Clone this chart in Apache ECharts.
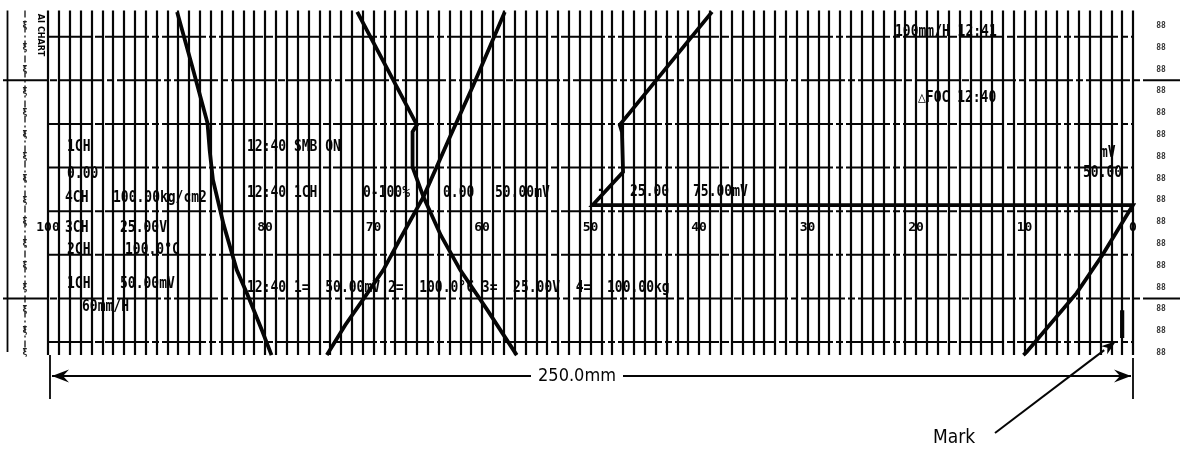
<!DOCTYPE html>
<html>
<head>
<meta charset="utf-8">
<script src="https://cdn.jsdelivr.net/npm/echarts@6/dist/echarts.min.js"></script>
<style>
  html, body { margin: 0; padding: 0; background: #fff; }
  #chart { width: 1182px; height: 449px; }
</style>
</head>
<body>
<div id="chart"></div>
<script>
// Recorder paper: 0–100 % full scale across (reversed), paper travel in minutes upward
// (60 mm/H, one major row = 10 mm = 10 min).

// Printed scale numbers (the printer skipped 90)
const scaleTicks = [100, 80, 70, 60, 50, 40, 30, 20, 10, 0];

// Major row lines, minutes; the two long rules run across the margins too
const rowLines = [0, 10, 20, 30, 40, 50, 60, 70];
const longRows = [10, 60];

// Pen traces as [scale %, minute]
const trace1 = [[88.1, 75.7], [86.7, 63.1], [85.3, 50.2], [85.1, 44.0], [84.8, 37.2],
                [83.8, 26.8], [82.6, 16.5], [81.6, 10.8], [80.3, 2.8], [79.4, -3.0]];
const trace2 = [[71.5, 75.7], [66.0, 49.8], [66.4, 48.2], [66.4, 40.1], [65.4, 33.3],
                [63.8, 24.5], [62.0, 16.5], [59.5, 7.3], [56.8, -3.0]];
const trace3 = [[74.3, -3.0], [72.6, 3.9], [71.0, 9.6], [69.1, 16.5], [67.6, 23.4],
                [65.4, 33.3], [63.0, 46.8], [60.8, 58.9], [57.9, 75.7]];
const trace4 = [[38.8, 75.7], [47.3, 49.8], [47.1, 48.2], [47.0, 39.0], [49.8, 31.4],
                [0.0, 31.4], [2.8, 20.0], [5.2, 11.2], [9.8, -2.3], [10.1, -3.0]];

// Event mark near the zero edge
const markBar = [[1, 7.3], [1, 0.9]];

// Chart-recorder printouts: [text, left px, centre px]
const printouts = [
  ['100mm/H 12:41', 895, 32],
  ['\u25B3FOC 12:40', 918, 98],
  ['1CH', 67, 147],
  ['12:40 SMB ON', 247, 147],
  ['mV', 1100, 153],
  ['0.00', 67, 174],
  ['50.00', 1083, 173],
  ['12:40 1CH', 247, 193],
  ['0-100%', 363, 193],
  ['0.00', 443, 193],
  ['50.00mV', 495, 193],
  ['-', 597, 190],
  ['25.00', 630, 192],
  ['75.00mV', 693, 192],
  ['4CH', 65, 198],
  ['100.00kg/cm2', 113, 198],
  ['3CH', 65, 228],
  ['25.00V', 120, 228],
  ['2CH', 67, 250],
  ['100.0\u00B0C', 125, 250],
  ['1CH', 67, 284],
  ['50.00mV', 120, 284],
  ['12:40 1=  50.00mV 2=  100.0\u00B0C 3=  25.00V  4=  100.00kg', 247, 288],
  ['60mm/H', 82, 307]
];

const chart = echarts.init(document.getElementById('chart'), null, { renderer: 'canvas' });
const INK = '#050505';
const MONO = "'DejaVu Sans Mono', 'Liberation Mono', monospace";
const SANS = "'DejaVu Sans Condensed', 'DejaVu Sans', sans-serif";

function traceSeries(data, width) {
  return {
    type: 'line', data: data, showSymbol: false, symbol: 'none', clip: true,
    lineStyle: { color: INK, width: width, cap: 'butt', join: 'miter' },
    z: 5, silent: true
  };
}

chart.setOption({
  animation: false,
  backgroundColor: '#ffffff',
  grid: { left: 48, right: 49, top: 10.6, bottom: 93.9 },
  xAxis: {
    type: 'value', min: 0, max: 100, interval: 1, inverse: true,
    position: 'bottom', offset: -142,
    axisLine: { show: false }, axisTick: { show: false },
    axisLabel: {
      formatter: v => (scaleTicks.includes(v) ? String(v) : ''),
      fontFamily: MONO, fontWeight: 'bold', fontSize: 13, color: INK,
      margin: 8, hideOverlap: false, showMinLabel: true, showMaxLabel: true
    },
    splitLine: { show: true, showMinLine: true, showMaxLine: true, lineStyle: { color: INK, width: 2.2 } }
  },
  yAxis: { type: 'value', min: -3, max: 76, show: false },
  series: [
    {
      type: 'custom', silent: true, z: 3,
      data: rowLines.map(m => [50, m, longRows.includes(m) ? 1 : 0]),
      encode: { x: 0, y: 1 },
      renderItem: function (params, api) {
        const p = api.coord([api.value(0), api.value(1)]);
        const cs = params.coordSys;
        const ext = api.value(2) === 1;
        return {
          type: 'line',
          shape: { x1: ext ? 3 : cs.x, y1: p[1], x2: ext ? 1180 : cs.x + cs.width, y2: p[1] },
          style: { stroke: INK, lineWidth: 2, lineDash: [44, 3, 7, 3] }
        };
      }
    },
    traceSeries(trace1, 3.8),
    traceSeries(trace2, 3.8),
    traceSeries(trace3, 3.8),
    traceSeries(trace4, 3.8),
    traceSeries(markBar, 4.2)
  ]
});

// Paper margins, printouts and the dimension / mark callouts
const px = v => chart.convertToPixel({ xAxisIndex: 0 }, v);
const py = m => chart.convertToPixel({ yAxisIndex: 0 }, m);
const xL = px(100), xR = px(0);
const yTop = py(76), yBot = py(-3);
const g = [];

// left paper edge and sprocket rule
g.push({ type: 'line', shape: { x1: 7.5, y1: yTop, x2: 7.5, y2: yBot - 3 }, style: { stroke: INK, lineWidth: 1.8 } });
g.push({ type: 'line', shape: { x1: 25, y1: yTop, x2: 25, y2: yBot - 3 }, style: { stroke: '#222', lineWidth: 1.4, lineDash: [7, 3, 2, 3] } });
g.push({
  type: 'text', x: 40, y: 35, rotation: -Math.PI / 2,
  style: { text: 'AI CHART', fontFamily: SANS, fontWeight: 'bold', fontSize: 9, fill: INK, align: 'center', verticalAlign: 'middle' }
});

// small margin printing every 5 min
for (let m = 72.5; m > -3; m -= 5) {
  const y = py(m);
  g.push({ type: 'text', x: 25, y: y, style: { text: 'ξ', fontFamily: SANS, fontWeight: 'bold', fontSize: 9, fill: '#222', align: 'center', verticalAlign: 'middle' } });
  g.push({ type: 'text', x: 1161, y: y, style: { text: '88', fontFamily: MONO, fontWeight: 'bold', fontSize: 8, fill: '#333', align: 'center', verticalAlign: 'middle' } });
}

printouts.forEach(([t, x, y]) => {
  g.push({
    type: 'text', x: x, y: y, z: 10, scaleY: 1.15,
    style: { text: t, fontFamily: MONO, fontWeight: 'bold', fontSize: 13, fill: INK, align: 'left', verticalAlign: 'middle' }
  });
});

// 250.0 mm dimension
const yDim = 376, textX = 577;
g.push({ type: 'line', shape: { x1: xL + 2, y1: yBot, x2: xL + 2, y2: 399 }, style: { stroke: INK, lineWidth: 1.8 } });
g.push({ type: 'line', shape: { x1: xR, y1: yBot + 3, x2: xR, y2: 399 }, style: { stroke: INK, lineWidth: 1.8 } });
g.push({ type: 'line', shape: { x1: xL + 4, y1: yDim, x2: textX - 46, y2: yDim }, style: { stroke: INK, lineWidth: 1.8 } });
g.push({ type: 'line', shape: { x1: textX + 46, y1: yDim, x2: xR - 2, y2: yDim }, style: { stroke: INK, lineWidth: 1.8 } });
g.push({ type: 'polygon', shape: { points: [[xL + 4, yDim], [xL + 21, yDim - 6.5], [xL + 15, yDim], [xL + 21, yDim + 6.5]] }, style: { fill: INK } });
g.push({ type: 'polygon', shape: { points: [[xR - 2, yDim], [xR - 19, yDim - 6.5], [xR - 13, yDim], [xR - 19, yDim + 6.5]] }, style: { fill: INK } });
g.push({ type: 'text', x: textX, y: yDim, style: { text: '250.0mm', fontFamily: SANS, fontSize: 18, fill: INK, align: 'center', verticalAlign: 'middle' } });

// "Mark" callout pointing at the event mark
const tipX = px(markBar[0][0]) - 6, tipY = py(markBar[1][1]) + 3;
const tailX = 995, tailY = 433;
const ang = Math.atan2(tipY - tailY, tipX - tailX);
const L = 15, W = 5;
const bx = tipX - L * Math.cos(ang), by = tipY - L * Math.sin(ang);
const nx = -Math.sin(ang), ny = Math.cos(ang);
g.push({ type: 'line', shape: { x1: tailX, y1: tailY, x2: bx, y2: by }, style: { stroke: INK, lineWidth: 2 } });
g.push({ type: 'polygon', shape: { points: [[tipX, tipY], [bx + nx * W, by + ny * W], [bx + 4 * Math.cos(ang), by + 4 * Math.sin(ang)], [bx - nx * W, by - ny * W]] }, style: { fill: INK } });
g.push({ type: 'text', x: 933, y: 438, style: { text: 'Mark', fontFamily: SANS, fontSize: 19, fill: INK, align: 'left', verticalAlign: 'middle' } });

chart.setOption({ graphic: g });
</script>
</body>
</html>
